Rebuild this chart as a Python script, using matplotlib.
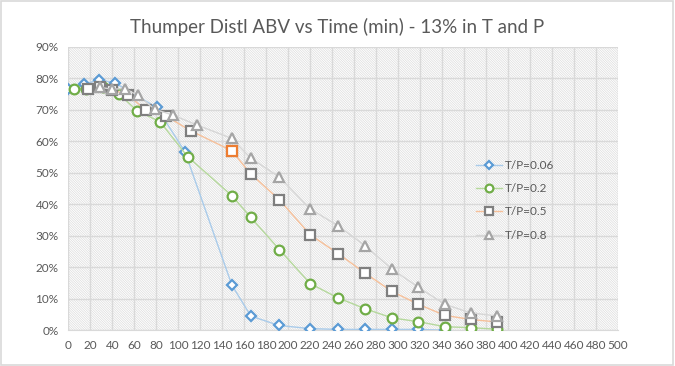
import numpy as np
import matplotlib
matplotlib.use("Agg")
import matplotlib.pyplot as plt
from matplotlib.patches import Rectangle
from matplotlib.ticker import MultipleLocator, PercentFormatter

plt.rcParams['font.family'] = ['Lato', 'DejaVu Sans']
plt.rcParams['hatch.linewidth'] = 0.5
plt.rcParams['hatch.color'] = "#DCDCDC"

# T/P = 0.06
t_006 = [0, 14.5, 28, 42.5, 80.4, 106, 148.8, 166, 191.5, 220, 245.5, 270, 294.4, 318.4, 342.5]
abv_006 = [76.6, 78.2, 79.6, 78.6, 70.8, 56.8, 14.4, 4.6, 1.6, 0.6, 0.35, 0.35, 0.35, 0.35, 0.1]

# T/P = 0.2
t_02 = [5.5, 16, 32, 46.4, 62.7, 83.4, 108.5, 148.8, 166, 192, 220, 245, 270, 294.4, 318.4, 342.5, 366, 390]
abv_02 = [76.6, 76.8, 77.3, 75.0, 69.7, 66.3, 55.2, 42.8, 35.9, 25.7, 14.9, 10.4, 6.9, 4.0, 2.8, 1.2, 0.9, 0.4]

# T/P = 0.5
t_05 = [18, 28.8, 39.5, 54.5, 70.4, 88.8, 111.3, 148.5, 166, 192, 220, 245.5, 270, 294.4, 318.5, 342.5, 366, 390]
abv_05 = [76.6, 77.2, 76.5, 74.7, 70.0, 68.1, 63.4, 57.1, 49.7, 41.5, 30.4, 24.4, 18.2, 12.4, 8.3, 4.8, 3.5, 2.7]
highlight_05 = 7  # point drawn in orange

# T/P = 0.8
t_08 = [28.5, 40, 51.5, 63, 78.8, 95, 117.3, 148.5, 166, 192, 220, 245.5, 270, 294.4, 318.5, 342.5, 366, 390]
abv_08 = [77.2, 76.6, 76.8, 74.7, 70.2, 68.4, 65.2, 61.0, 54.7, 48.7, 38.6, 33.2, 26.9, 19.5, 13.7, 8.3, 5.6, 4.6]

series = [
    ("T/P=0.06", t_006, abv_006, "D", "#A9CBEA", "#5B9BD5", 5.5),
    ("T/P=0.2", t_02, abv_02, "o", "#B5D89C", "#70AD47", 7),
    ("T/P=0.5", t_05, abv_05, "s", "#F6C09A", "#7F7F7F", 6.5),
    ("T/P=0.8", t_08, abv_08, "^", "#D6D6D6", "#A5A5A5", 7),
]

fig = plt.figure(figsize=(6.75, 3.66), dpi=100)
fig.patches.append(Rectangle((0.002, 0.003), 0.995, 0.994, transform=fig.transFigure,
                             fill=False, edgecolor="#D9D9D9", linewidth=1.2))
ax = fig.add_axes([0.1012, 0.097, 0.8144, 0.7746])

# hatched plot area
ax.add_patch(Rectangle((0, 0), 1, 1, transform=ax.transAxes, facecolor="white",
                       edgecolor="#DCDCDC", hatch="\\" * 14, linewidth=0, zorder=0))

for label, t, y, mk, lc, mc, ms in series:
    y = np.array(y) / 100.0
    ax.plot(t, y, color=lc, linewidth=1.0, marker=mk, markersize=ms,
            markeredgecolor=mc, markerfacecolor="white", markeredgewidth=1.6,
            label=label, zorder=3)
    if label == "T/P=0.5":
        ax.plot(t[highlight_05], y[highlight_05], linestyle="none", marker=mk,
                markersize=ms, markeredgecolor="#ED7D31", markerfacecolor="white",
                markeredgewidth=1.6, zorder=4)

ax.set_xlim(0, 500)
ax.set_ylim(0, 0.9)
ax.xaxis.set_major_locator(MultipleLocator(20))
ax.yaxis.set_major_locator(MultipleLocator(0.1))
ax.yaxis.set_major_formatter(PercentFormatter(1.0, decimals=0))
ax.grid(True, color="#D9D9D9", linewidth=1.0, zorder=1)
ax.set_axisbelow(True)
for s in ["top", "right", "left"]:
    ax.spines[s].set_visible(False)
ax.spines["bottom"].set_color("#D9D9D9")
ax.tick_params(length=0, labelsize=8.5, colors="#595959", pad=7)

fig.text(0.5, 0.925, "Thumper Distl ABV vs Time (min) - 13% in T and P",
         ha="center", va="center", fontsize=13.5, color="#595959")

leg = ax.legend(loc="upper left", bbox_to_anchor=(0.722, 0.64), frameon=False,
                fontsize=8.5, labelspacing=1.05, handlelength=2.2, handletextpad=0.3,
                markerscale=0.8)
for txt in leg.get_texts():
    txt.set_color("#595959")

fig.savefig("out.png", dpi=100)
